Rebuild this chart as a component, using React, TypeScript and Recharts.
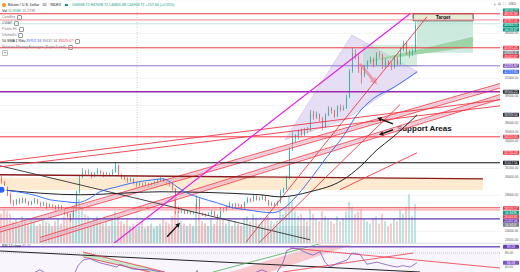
import React from "react";
import {
  ComposedChart,
  Bar,
  Line,
  XAxis,
  YAxis,
  ReferenceLine,
  ReferenceArea,
  CartesianGrid,
  Cell,
} from "recharts";

const UP = "#26a69a";
const DOWN = "#ef5350";
const FONT = '"Liberation Sans", Arial, sans-serif';

// daily BTCUSD, thousand USD: open, high, low, close, volume
const candles: number[][] = [
  [29.8, 30.2, 29.3, 29.5, 12], [29.5, 29.6, 28.6, 28.8, 14], [28.8, 29.0, 27.9, 28.1, 13],
  [28.1, 28.3, 27.0, 27.3, 12], [27.3, 27.5, 26.8, 27.1, 9], [27.1, 27.6, 26.9, 27.5, 10],
  [27.5, 27.7, 27.0, 27.2, 8], [27.2, 27.8, 27.1, 27.6, 11], [27.6, 27.7, 27.1, 27.3, 9],
  [27.3, 27.4, 26.8, 27.0, 8], [27.0, 27.4, 26.9, 27.2, 10], [27.2, 27.7, 27.1, 27.5, 9],
  [27.5, 27.6, 27.0, 27.1, 7], [27.1, 27.3, 26.7, 26.9, 8], [26.9, 27.3, 26.8, 27.1, 10],
  [27.1, 27.2, 26.5, 26.7, 9], [26.7, 27.1, 26.6, 26.9, 8], [26.9, 27.0, 26.6, 26.8, 7],
  [26.8, 26.9, 26.3, 26.5, 9], [26.5, 27.0, 26.4, 26.8, 10], [26.8, 26.9, 26.2, 26.4, 8],
  [26.4, 26.5, 25.8, 25.9, 11], [25.9, 26.1, 25.5, 25.7, 10], [25.7, 26.0, 25.1, 25.6, 12],
  [25.6, 26.7, 25.5, 26.5, 13], [26.5, 28.5, 26.4, 28.3, 17], [28.3, 30.2, 28.2, 30.0, 18],
  [30.0, 31.0, 29.9, 30.6, 14], [30.6, 30.8, 30.2, 30.4, 12], [30.4, 30.9, 30.3, 30.5, 11],
  [30.5, 30.6, 29.9, 30.1, 9], [30.1, 30.6, 30.0, 30.4, 10], [30.4, 31.0, 30.3, 30.7, 11],
  [30.7, 30.8, 30.3, 30.5, 9], [30.5, 30.6, 30.0, 30.2, 8], [30.2, 30.6, 30.1, 30.4, 9],
  [30.4, 30.5, 30.1, 30.3, 7], [30.3, 30.9, 30.2, 30.6, 10], [30.6, 31.7, 30.5, 31.3, 13],
  [31.3, 31.4, 30.2, 30.3, 11], [30.3, 30.4, 29.8, 30.0, 9], [30.0, 30.2, 29.7, 29.9, 8],
  [29.9, 30.0, 29.4, 29.6, 10], [29.6, 30.0, 29.5, 29.8, 7], [29.8, 29.9, 29.2, 29.4, 8],
  [29.4, 29.5, 28.9, 29.1, 6], [29.1, 29.5, 29.0, 29.3, 7], [29.3, 29.4, 29.0, 29.2, 9],
  [29.2, 29.5, 29.1, 29.3, 6], [29.3, 29.4, 28.9, 29.1, 7], [29.1, 29.4, 29.0, 29.2, 8],
  [29.2, 29.6, 29.1, 29.4, 6], [29.4, 29.8, 29.3, 29.6, 7], [29.6, 30.1, 29.5, 29.8, 8],
  [29.8, 29.9, 29.4, 29.5, 10], [29.5, 29.6, 29.2, 29.4, 9], [29.4, 29.5, 29.0, 29.2, 8],
  [29.2, 29.3, 28.5, 28.7, 11], [28.7, 28.8, 25.9, 26.6, 18], [26.6, 26.8, 26.0, 26.1, 13],
  [26.1, 26.5, 26.0, 26.3, 9], [26.3, 26.4, 25.9, 26.0, 8], [26.0, 26.4, 25.9, 26.2, 7],
  [26.2, 26.3, 25.9, 26.0, 8], [26.0, 26.3, 25.9, 26.1, 7], [26.1, 28.0, 26.0, 27.6, 16],
  [27.6, 27.7, 25.9, 26.0, 12], [26.0, 26.1, 25.7, 25.9, 9], [25.9, 26.0, 25.6, 25.8, 8],
  [25.8, 26.1, 25.7, 25.9, 7], [25.9, 26.4, 25.8, 26.2, 10], [26.2, 26.3, 25.7, 25.8, 8],
  [25.8, 25.9, 25.2, 25.6, 9], [25.6, 26.7, 25.5, 26.5, 11], [26.5, 26.6, 26.1, 26.3, 10],
  [26.3, 26.9, 26.2, 26.7, 8], [26.7, 27.3, 26.6, 27.0, 9], [27.0, 27.1, 26.4, 26.6, 7],
  [26.6, 27.2, 26.5, 27.0, 9], [27.0, 27.1, 26.7, 26.9, 8], [26.9, 27.0, 26.4, 26.6, 7],
  [26.6, 27.3, 26.5, 27.2, 10], [27.2, 27.8, 27.1, 27.6, 11], [27.6, 27.7, 27.2, 27.4, 9],
  [27.4, 28.1, 27.3, 27.9, 12], [27.9, 28.0, 27.4, 27.5, 10], [27.5, 27.8, 27.4, 27.6, 8],
  [27.6, 28.1, 27.5, 27.9, 9], [27.9, 28.0, 27.3, 27.4, 10], [27.4, 27.5, 26.8, 26.9, 11],
  [26.9, 27.3, 26.8, 27.1, 9], [27.1, 27.2, 26.8, 26.9, 8], [26.9, 27.4, 26.8, 27.2, 9],
  [27.2, 28.6, 27.1, 28.4, 13], [28.4, 28.9, 28.2, 28.7, 12], [28.7, 30.2, 28.6, 29.9, 15],
  [29.9, 33.4, 29.8, 33.1, 19], [33.1, 35.0, 32.9, 34.3, 17], [34.3, 34.8, 33.9, 34.6, 13],
  [34.6, 35.3, 34.2, 35.2, 11], [35.2, 35.4, 34.5, 34.7, 12], [34.7, 35.5, 34.6, 35.3, 10],
  [35.3, 35.6, 34.9, 35.2, 9], [35.2, 37.5, 35.1, 37.1, 14], [37.1, 37.4, 36.4, 36.7, 12],
  [36.7, 37.3, 36.5, 37.0, 10], [37.0, 37.1, 36.2, 36.5, 9], [36.5, 36.7, 35.2, 35.6, 13],
  [35.6, 37.1, 35.5, 36.9, 11], [36.9, 37.9, 36.8, 37.6, 10], [37.6, 37.8, 37.1, 37.4, 9],
  [37.4, 37.5, 36.6, 36.8, 8], [36.8, 38.0, 36.7, 37.8, 11], [37.8, 38.1, 37.3, 37.5, 9],
  [37.5, 38.0, 37.4, 37.7, 10], [37.7, 39.2, 37.6, 38.9, 13], [38.9, 42.0, 38.8, 41.8, 17],
  [41.8, 44.4, 41.6, 43.8, 15], [43.8, 44.2, 43.1, 43.5, 12], [43.5, 43.6, 41.6, 42.0, 13],
  [42.0, 42.2, 40.4, 41.3, 14], [41.3, 42.5, 41.1, 42.3, 10], [42.3, 43.0, 42.0, 42.8, 9],
  [42.8, 43.4, 42.6, 43.1, 8], [43.1, 43.3, 42.2, 42.5, 10], [42.5, 43.9, 42.4, 43.7, 11],
  [43.7, 44.0, 43.3, 43.6, 8], [43.6, 43.7, 42.0, 42.3, 12], [42.3, 43.2, 42.1, 42.9, 9],
  [42.9, 43.0, 42.3, 42.5, 7], [42.5, 42.8, 41.9, 42.2, 8], [42.2, 43.5, 42.1, 43.3, 10],
  [43.3, 43.4, 42.4, 42.6, 9], [42.6, 44.4, 42.5, 44.2, 14], [44.2, 45.2, 44.0, 44.9, 12],
  [44.9, 45.1, 43.6, 43.9, 15], [43.9, 44.2, 43.3, 43.9, 20], [43.9, 44.3, 43.5, 44.0, 11],
  [44.0, 47.3, 43.9, 46.9, 16],
];

// blue moving average: [bar, price]
const maPoints = [
  [0, 28.61], [10.5, 28.06], [16.2, 27.5], [21.8, 27.28], [25.2, 27.17], [28.5, 27.5],
  [32.8, 28.39], [38.5, 28.94], [43.8, 29.39], [50.5, 29.72], [53.8, 29.83], [56.2, 29.5],
  [58.5, 28.94], [61.8, 28.28], [66.2, 27.72], [71.8, 27.17], [77.2, 26.61], [81.8, 26.39],
  [86.2, 26.17], [90.2, 26.06], [92.8, 26.28], [97.2, 27.5], [102.8, 29.72], [108.5, 32.28],
  [113.8, 34.5], [118.5, 36.94], [123.8, 38.72], [130.5, 39.94], [138.5, 41.72],
];

// dark parabolic curve
const curvePoints = [
  [0, 28.61], [26.2, 28.06], [52.8, 28.39], [86.2, 28.06], [92.8, 27.83], [102.8, 28.39],
  [113.8, 29.72], [119.5, 31.17], [125.2, 33.06], [130.2, 34.39], [138.5, 36.94],
];

// RSI 14: [bar, value]
const rsiPoints = [
  [0, 45], [6.2, 42], [12.8, 56], [19.5, 40], [22.8, 35], [25.5, 62], [27.2, 70], [29.5, 72],
  [32.8, 66], [38.5, 60], [39.5, 64], [43.8, 57], [49.5, 56], [54.5, 52], [57.8, 25], [62.8, 35],
  [65.2, 55], [66.2, 38], [72.8, 35], [79.5, 48], [84.5, 52], [86.8, 56], [91.2, 48], [93.8, 66],
  [95.2, 84], [97.2, 87], [99.5, 85], [101.8, 80], [103.8, 77], [106.2, 82], [107.8, 67],
  [109.5, 60], [111.8, 65], [115.2, 70], [116.8, 80], [119.5, 78], [121.8, 64], [125.2, 67],
  [128.5, 63], [131.8, 60], [133.8, 62], [136.2, 60], [138.5, 66],
];

// price scale labels (TradingView hides the ones under a tag)
const priceTicks = [23, 24, 28, 29, 30, 31, 34, 35, 36, 38, 39, 40, 41, 45, 46];
const rsiTicks = [60, 80];

// horizontal levels, thousand USD
const redLevels = [48.17, 44.39, 34.5, 26.61];
const pinkLevels = [47.5, 26.39];
const tealLevels = [47.06];
const purpleLevels = [42.39, 39.5, 25.39];
const blackLevels = [31.61];
const zoneBand = [28.6, 29.95];
const grayZone = [-0.5, 103, 22.7, 24.6];

// trendlines [x1, y1, x2, y2] in bar / thousand USD
const magentaLines = [[37.2, 22.6, 136.2, 48.17]];
const redTrends = [
  [-0.5, 31.72, 166.2, 38.61],
  [-0.5, 31.17, 166.2, 37.94],
  [81.5, 22.8, 141.8, 47.83],
  [85.8, 22.72, 132.8, 38.06],
  [112.8, 28.61, 138.5, 32.72],
];
const supportBands = [
  [-0.5, 24.17, 166.2, 40.17],
  [12.83, 23.06, 166.2, 38.94],
];
const blackTrends = [[-0.5, 31.28, 102.8, 23.06]];
const brownTrends = [[-0.5, 30.28, 160.5, 29.83]];
const arrows = [
  [130.5, 35.94, 125.2, 36.61],
  [130.5, 35.28, 125.8, 34.72],
  [55.2, 23.39, 59.5, 24.94],
];
const pinkArrows = [[119.5, 42.6, 125.2, 40.3]];

// boxes [x1, x2, y1, y2]
const rangeBox = [120.5, 138.5, 42.28, 44.72];
const targetBox = [138.5, 157.2, 43.83, 47.39];
const targetLabel = [137.2, 157.2, 47.39, 48.17];
const supportText = [131.8, 150.5, 35.17, 36.17];
const flagPoly = [[94.5, 34.17], [116.8, 45.83], [138.8, 41.72], [114.5, 36.39]];
const wedgePoly = [[121.2, 42.83], [157.2, 45.61], [157.2, 44.5]];

// price tags on the right scale
const tagPrices = [48.53, 48.17, 47.39, 46.9, 46.42, 44.39, 43.83, 43.44, 42.39, 41.72, 39.5, 36.94, 34.5, 32.72, 31.61, 26.55, 26.06, 25.61, 25.17, 24.72];
const tagTexts = ["48534.27", "48190.88", "47357.16", "46903.71", "04:23:47", "44391.45", "43826.31", "43442.67", "42391.87", "41719.80", "39500.22", "36939.54", "34519.95", "32726.43", "31617.56", "26529.17", "56.843K", "26043.82", "25337.06", "56.842K"];
const tagColors = ["#089981", "#f23645", "#f23645", "#089981", "#089981", "#f23645", "#787b86", "#f23645", "#7e57c2", "#2962ff", "#2a2e39", "#2a2e39", "#f23645", "#f23645", "#131722", "#f23645", "#089981", "#f23645", "#673ab7", "#787b86"];

// RSI pane drawings
const rsiBlack = [[-0.5, 82.9, 139.5, 52.9]];
const rsiRed = [[27.2, 81.4, 54.5, 52.9], [27.2, 74.3, 49.5, 52.9], [96.2, 87.2, 166.2, 58.6], [93.8, 52.9, 137.2, 80]];
const rsiGreen = [[70.5, 52.9, 107.2, 94.3]];
const rsiPinkPoly = [[76.2, 52.9], [106.2, 91.4], [116.8, 91.4], [89.5, 52.9]];
const rsiGreenPoly = [[27.2, 81.4], [54.5, 52.9], [49.5, 52.9], [27.2, 74.3]];

const X0 = -0.5;
const X1 = 166.17;

const rows = candles.map((c, i) => ({ i, o: c[0], h: c[1], l: c[2], c: c[3], v: c[4] }));
const maRows = maPoints.map(([i, p]) => ({ i, p }));
const curveRows = curvePoints.map(([i, p]) => ({ i, p }));
const rsiRows = rsiPoints.map(([i, r]) => ({ i, r }));

const CandleShape = (props: any) => {
  const { x, y, width, height, payload } = props;
  if (!payload) return null;
  const { o, h, l, c } = payload;
  const top = Math.min(y, y + height);
  const hgt = Math.abs(height);
  const span = h - l || 1;
  const py = (v: number) => top + ((h - v) / span) * hgt;
  const color = c >= o ? UP : DOWN;
  const cx = x + width / 2;
  const b1 = py(Math.max(o, c));
  const b2 = py(Math.min(o, c));
  return (
    <g>
      <line x1={cx} x2={cx} y1={top} y2={top + hgt} stroke={color} strokeWidth={0.7} />
      <rect x={x} y={b1} width={width} height={Math.max(0.7, b2 - b1)} fill={color} />
    </g>
  );
};

function poly(pts: number[][], fill: string, stroke = "none", opacity = 1) {
  const xs = pts.map((p) => p[0]);
  const ys = pts.map((p) => p[1]);
  const minX = Math.min(...xs);
  const maxX = Math.max(...xs);
  const minY = Math.min(...ys);
  const maxY = Math.max(...ys);
  const shape = (p: any) => {
    const s = pts
      .map(([a, b]) => `${p.x + ((a - minX) / (maxX - minX)) * p.width},${p.y + ((maxY - b) / (maxY - minY)) * p.height}`)
      .join(" ");
    return <polygon points={s} fill={fill} fillOpacity={opacity} stroke={stroke} strokeWidth={0.6} />;
  };
  return <ReferenceArea x1={minX} x2={maxX} y1={minY} y2={maxY} shape={shape} ifOverflow="visible" />;
}

const arrowShape = (color: string, w: number, head: number) => (p: any) => {
  const { x1, y1, x2, y2 } = p;
  const a = Math.atan2(y2 - y1, x2 - x1);
  const bx = x2 - head * Math.cos(a);
  const by = y2 - head * Math.sin(a);
  const nx = -Math.sin(a) * head * 0.5;
  const ny = Math.cos(a) * head * 0.5;
  return (
    <g>
      <line x1={x1} y1={y1} x2={bx} y2={by} stroke={color} strokeWidth={w} />
      <polygon points={`${x2},${y2} ${bx + nx},${by + ny} ${bx - nx},${by - ny}`} fill={color} />
    </g>
  );
};

const tag = (text: string, bg: string) => (p: any) => {
  const vb = p.viewBox || {};
  const x = vb.x + vb.width + 3;
  const y = vb.y;
  return (
    <g>
      <rect x={x} y={y - 2} width={16} height={4} rx={0.5} fill={bg} />
      <text x={x + 8} y={y + 1.2} fontSize={3.2} textAnchor="middle" fill="#fff" fontFamily={FONT}>
        {text}
      </text>
    </g>
  );
};

const seg = (s: number[], stroke: string, w: number, dash?: string, opacity = 1, key?: string) => (
  <ReferenceLine
    key={key}
    segment={[{ x: s[0], y: s[1] }, { x: s[2], y: s[3] }]}
    stroke={stroke}
    strokeWidth={w}
    strokeDasharray={dash}
    strokeOpacity={opacity}
    ifOverflow="hidden"
  />
);

const fmt = (v: number) => (v * 1000).toFixed(2);

function Header() {
  const gray = "#787b86";
  const lines = ["Candles", "VWAP", "Pivots HL", "Ichimoku"];
  const icon = <span style={{ display: "inline-block", width: 3, height: 3, border: "0.5px solid #999", borderRadius: 1, marginLeft: 2, verticalAlign: "middle" }} />;
  return (
    <div style={{ position: "absolute", left: 2, top: 2, fontFamily: FONT, fontSize: 3.6, lineHeight: "6px", color: "#131722", whiteSpace: "nowrap" }}>
      <div>
        <span style={{ display: "inline-block", width: 4, height: 4, borderRadius: 2, background: "#f7931a", marginRight: 2, verticalAlign: "middle" }} />
        <span>Bitcoin / U.S. Dollar · 1D · INDEX</span>
        <span style={{ display: "inline-block", width: 2.5, height: 2.5, background: "#089981", margin: "0 4px", verticalAlign: "middle" }} />
        <span style={{ color: "#089981" }}>O46938.72 H47698.72 L46805.88 C46903.71 +257.66 (+0.55%)</span>
      </div>
      <div>
        <span>Vol</span> <span style={{ color: "#089981" }}>11.918K</span> <span style={{ color: gray }}>25.273K</span>
      </div>
      {lines.map((t) => (
        <div key={t} style={{ color: gray }}>
          {t}
          {icon}
        </div>
      ))}
      <div>
        <span>50 SMA 1 Rdu</span> <span style={{ color: "#2962ff" }}>39702.34</span> <span style={{ color: gray }}>39432.34</span>{" "}
        <span style={{ color: "#f23645" }}>39529.67</span>
        {icon}
      </div>
      <div style={{ color: gray }}>
        Relative Moving Averages (SuperTrend)
        {icon}
      </div>
      <div>
        <span style={{ display: "inline-block", border: "0.5px solid #bbb", borderRadius: 1, padding: "0 1px", lineHeight: "4px" }}>«</span>
      </div>
    </div>
  );
}

function MainPane() {
  return (
    <ComposedChart width={520} height={243} data={rows} margin={{ top: 0, right: 0, bottom: 0, left: 0 }}>
      <CartesianGrid stroke="#f2f3f7" vertical={false} />
      <XAxis dataKey="i" type="number" domain={[X0, X1]} hide allowDataOverflow />
      <XAxis xAxisId="vx" dataKey="i" type="number" domain={[X0, X1]} hide allowDataOverflow />
      <YAxis
        orientation="right"
        width={20}
        domain={[22.7, 49.7]}
        ticks={priceTicks}
        allowDataOverflow
        tickLine={false}
        axisLine={false}
        tickSize={0}
        tickMargin={5}
        tickFormatter={fmt}
        tick={{ fontSize: 3.2, fill: "#555", fontFamily: FONT }}
      />
      <YAxis yAxisId="vol" hide domain={[0, 100]} />

      <ReferenceArea x1={grayZone[0]} x2={grayZone[1]} y1={grayZone[2]} y2={grayZone[3]} fill="#dcdde2" fillOpacity={0.6} ifOverflow="hidden" />
      <ReferenceArea y1={zoneBand[0]} y2={zoneBand[1]} x1={X0} x2={160.5} fill="#fde3c0" fillOpacity={0.75} ifOverflow="hidden" />
      {poly(flagPoly, "#e2d8f3", "#cdbdea", 0.85)}
      <ReferenceArea x1={rangeBox[0]} x2={rangeBox[1]} y1={rangeBox[2]} y2={rangeBox[3]} fill="#a9dcc0" fillOpacity={0.5} ifOverflow="hidden" />
      <ReferenceArea x1={targetBox[0]} x2={targetBox[1]} y1={targetBox[2]} y2={targetBox[3]} fill="#bfe5d6" fillOpacity={0.8} ifOverflow="hidden" />
      {poly(wedgePoly, "#9fd3a8")}
      <ReferenceLine x={45.2} stroke="#c9c9c9" strokeDasharray="1 1.5" />

      {supportBands.map((b, k) => (
        <React.Fragment key={"b" + k}>
          {seg(b, "#f7b4bb", 4.5, undefined, 0.55)}
          {seg([b[0], b[1] + 0.25, b[2], b[3] + 0.25], "#f23645", 0.8)}
          {seg([b[0], b[1] - 0.25, b[2], b[3] - 0.25], "#f23645", 0.8)}
          {seg(b, "#b39ddb", 0.6, "1.5 1")}
        </React.Fragment>
      ))}

      {redLevels.map((v) => (
        <ReferenceLine key={"r" + v} y={v} stroke="#f23645" strokeWidth={1} />
      ))}
      {pinkLevels.map((v) => (
        <ReferenceLine key={"pk" + v} y={v} stroke="#f7a1a8" strokeWidth={1.2} />
      ))}
      {tealLevels.map((v) => (
        <ReferenceLine key={"t" + v} y={v} stroke="#b2dfdb" strokeWidth={0.8} />
      ))}
      <ReferenceLine y={purpleLevels[0]} stroke="#9575cd" strokeWidth={1} />
      <ReferenceLine y={purpleLevels[1]} stroke="#9c27b0" strokeWidth={1.4} />
      <ReferenceLine y={purpleLevels[2]} stroke="#5e35b1" strokeWidth={1.2} />
      {blackLevels.map((v) => (
        <ReferenceLine key={"k" + v} y={v} stroke="#111" strokeWidth={1.1} />
      ))}
      {brownTrends.map((s, k) => seg(s, "#8b1a1a", 1.4, undefined, 1, "br" + k))}
      {blackTrends.map((s, k) => seg(s, "#333", 0.9, undefined, 1, "bk" + k))}
      {redTrends.map((s, k) => seg(s, "#f23645", 0.9, undefined, 1, "rt" + k))}
      {magentaLines.map((s, k) => seg(s, "#e91ee9", 1.2, undefined, 1, "mg" + k))}

      <Bar xAxisId="vx" yAxisId="vol" dataKey="v" barSize={2} isAnimationActive={false}>
        {rows.map((r) => (
          <Cell key={r.i} fill={r.c >= r.o ? UP : DOWN} fillOpacity={0.3} />
        ))}
      </Bar>
      <Line data={curveRows} dataKey="p" type="monotone" stroke="#222" strokeWidth={1} dot={false} isAnimationActive={false} />
      <Line data={maRows} dataKey="p" type="monotone" stroke="#2962ff" strokeWidth={0.9} dot={false} isAnimationActive={false} />
      <Bar dataKey={(d: any) => [d.l, d.h]} barSize={2} shape={CandleShape} isAnimationActive={false} />

      {pinkArrows.map((s, k) => (
        <ReferenceLine key={"pa" + k} segment={[{ x: s[0], y: s[1] }, { x: s[2], y: s[3] }]} ifOverflow="visible" shape={arrowShape("rgba(239,83,80,0.45)", 3, 7)} />
      ))}
      <ReferenceArea
        x1={targetLabel[0]}
        x2={targetLabel[1]}
        y1={targetLabel[2]}
        y2={targetLabel[3]}
        ifOverflow="visible"
        shape={(p: any) => (
          <g>
            <rect x={p.x} y={p.y} width={p.width} height={p.height} fill="#e3edd6" stroke="#222" strokeWidth={0.8} />
            <text x={p.x + p.width / 2} y={p.y + p.height - 1.6} textAnchor="middle" fontSize={5} fontWeight="bold" fontFamily={FONT} fill="#111">
              Target
            </text>
          </g>
        )}
      />
      <ReferenceArea
        x1={supportText[0]}
        x2={supportText[1]}
        y1={supportText[2]}
        y2={supportText[3]}
        ifOverflow="visible"
        shape={(p: any) => (
          <text x={p.x} y={p.y + p.height} fontSize={8} fontWeight="bold" fontFamily={FONT} fill="#111">
            Support Areas
          </text>
        )}
      />
      {arrows.map((s, k) => (
        <ReferenceLine key={"a" + k} segment={[{ x: s[0], y: s[1] }, { x: s[2], y: s[3] }]} ifOverflow="visible" shape={arrowShape("#111", 1.4, 4.5)} />
      ))}

      {tagPrices.map((v, k) => (
        <ReferenceLine key={"tg" + k} y={v} stroke="none" label={tag(tagTexts[k], tagColors[k])} />
      ))}
    </ComposedChart>
  );
}

function RsiPane() {
  return (
    <ComposedChart width={520} height={29} data={rsiRows} margin={{ top: 0, right: 0, bottom: 0, left: 0 }}>
      <XAxis dataKey="i" type="number" domain={[X0, X1]} hide allowDataOverflow />
      <YAxis
        orientation="right"
        width={20}
        domain={[52.9, 94.3]}
        ticks={rsiTicks}
        allowDataOverflow
        tickLine={false}
        axisLine={false}
        tickSize={0}
        tickMargin={5}
        tickFormatter={(v: number) => v.toFixed(2)}
        tick={{ fontSize: 3.2, fill: "#555", fontFamily: FONT }}
      />
      <ReferenceArea y1={52.9} y2={89} x1={X0} x2={X1} fill="#f1ecfa" ifOverflow="hidden" />
      {poly(rsiGreenPoly, "#c8e6c9")}
      {poly(rsiPinkPoly, "#f8c9cc")}
      <ReferenceLine y={80} stroke="#c8c8d0" strokeDasharray="1 1" />
      {rsiBlack.map((s, k) => seg(s, "#222", 1, undefined, 1, "rb" + k))}
      {rsiRed.map((s, k) => seg(s, "#f23645", 0.8, undefined, 1, "rr" + k))}
      {rsiGreen.map((s, k) => seg(s, "#4caf50", 0.8, undefined, 1, "rg" + k))}
      <ReferenceLine y={89.03} stroke="#7e57c2" strokeWidth={1.5} label={tag("89.03", "#673ab7")} />
      <ReferenceLine y={66.03} stroke="none" label={tag("66.03", "#7e57c2")} />
      <Line dataKey="r" type="linear" stroke="#7e57c2" strokeWidth={0.8} dot={false} isAnimationActive={false} />
    </ComposedChart>
  );
}

export default function App() {
  return (
    <div style={{ position: "absolute", left: 0, top: 0, width: 520, height: 272, background: "#fff", overflow: "hidden" }}>
      <MainPane />
      <div style={{ position: "absolute", left: 0, top: 243 }}>
        <RsiPane />
      </div>
      <div style={{ position: "absolute", left: 0, top: 243, width: 520, borderTop: "1px solid #e0e3eb" }} />
      <div style={{ position: "absolute", left: 2, top: 244, fontFamily: FONT, fontSize: 3.4, color: "#131722" }}>
        RSI 14 close <span style={{ color: "#7e57c2" }}>65.03</span>
      </div>
      <Header />
      <div style={{ position: "absolute", right: 4, top: 2, fontFamily: FONT, fontSize: 3.6, color: "#555" }}>
        ⤓ &nbsp;⚙ &nbsp;⛶ &nbsp;USD
      </div>
    </div>
  );
}
